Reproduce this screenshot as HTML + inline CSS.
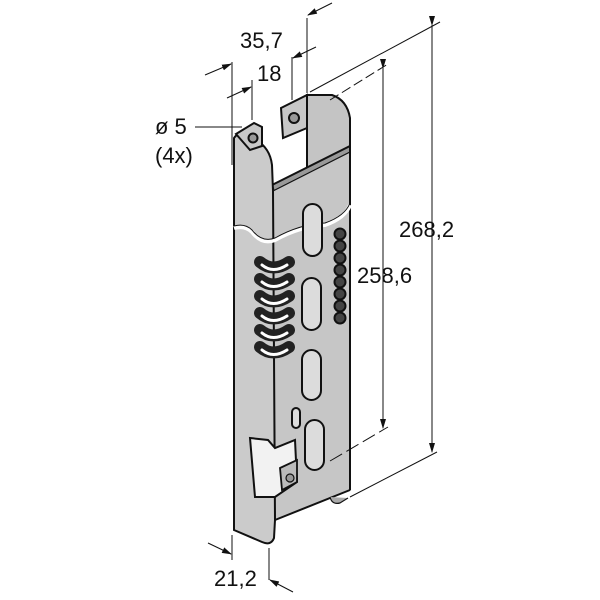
<!DOCTYPE html>
<html><head><style>body{margin:0;background:#fff}svg{display:block}text{font-family:"Liberation Sans",sans-serif;fill:#111}</style></head><body>
<svg width="600" height="600" viewBox="0 0 600 600" xmlns="http://www.w3.org/2000/svg">
<defs><marker id="a" markerWidth="10" markerHeight="8" refX="9" refY="4" orient="auto" markerUnits="userSpaceOnUse"><path d="M0,1 L10,4 L0,7z" fill="#111"/></marker></defs>
<g stroke="#111" stroke-width="1.2" fill="none">
<path d="M307,95 L332,95 Q347,100 350,118 L350,150 L307,170 Z" fill="#c4c4c4" stroke-width="2"/>
<path d="M281,108 L307,95 L307,128 L283,138Z" fill="#c8c8c8" stroke-width="2"/>
<circle cx="294" cy="118" r="5" fill="#999" stroke-width="2"/>
<path d="M272,185 L350,146 L350,153 L274,192Z" fill="#999" stroke-width="2"/>
<path d="M273,191 L350,152 L350,490 L275,520 Z" fill="#c6c6c6"/>
<path d="M234,138 Q238,132 246,132 L256,140 Q270,148 272,165 L273,191 L275,520 L274,538 Q271,546 262,542 L234,530 Z" fill="#cbcbcb" stroke-width="2"/>
<path d="M236,134 L254,123 L262,127 L262,146 L250,150Z" fill="#c8c8c8" stroke-width="2"/>
<circle cx="253" cy="138" r="4.5" fill="#999" stroke-width="2"/>
<line x1="273" y1="191" x2="275" y2="520"/>
<path d="M275,520 L350,490" stroke-width="2"/>
<line x1="350" y1="146" x2="350" y2="490" stroke-width="2"/>
<path d="M330,497 Q332,505 340,503 L348,498" fill="#aaa"/>
<path d="M250,438 L268,440 L275,448 L295,440 L297,482 L275,497 L255,497 Z" fill="#f2f2f2" stroke-width="2"/>
<path d="M280,468 L297,460 L297,482 L282,490Z" fill="#bbb" stroke-width="1.8"/>
<circle cx="290" cy="478" r="4" fill="#999"/>
<path d="M234,228 Q245,225 252,232 Q262,245 275,240 Q300,226 325,225 Q345,218 350,205" stroke="#fff" stroke-width="4"/>
<path d="M234,226 Q245,223 252,230 Q262,243 275,238 Q300,224 325,223 Q345,216 350,203" stroke-width="1"/>
<g fill="#dcdcdc" stroke-width="2">
<rect x="303" y="204" width="19" height="52" rx="9.5"/>
<rect x="302" y="278" width="19" height="52" rx="9.5"/>
<rect x="302" y="350" width="19" height="50" rx="9.5"/>
<rect x="292" y="408" width="8" height="20" rx="4"/>
<rect x="305" y="420" width="19" height="50" rx="9.5"/>
</g>
<g stroke-linecap="round" stroke-linejoin="round">
<g stroke="#222" stroke-width="12">
<path d="M260,262 Q273,273 289,262"/><path d="M260,279 Q273,290 289,279"/><path d="M260,296 Q273,307 289,296"/><path d="M260,313 Q273,324 289,313"/><path d="M260,330 Q273,341 289,330"/><path d="M260,347 Q273,358 289,347"/>
</g>
<g stroke="#fff" stroke-width="3">
<path d="M262,265 Q273,274 287,265"/><path d="M262,282 Q273,291 287,282"/><path d="M262,299 Q273,308 287,299"/><path d="M262,316 Q273,325 287,316"/><path d="M262,333 Q273,342 287,333"/><path d="M262,350 Q273,359 287,350"/>
</g>
</g>
<g fill="#444" stroke-width="2">
<circle cx="340" cy="234" r="5.5"/><circle cx="340" cy="246" r="5.5"/><circle cx="340" cy="258" r="5.5"/><circle cx="340" cy="270" r="5.5"/><circle cx="340" cy="282" r="5.5"/><circle cx="340" cy="294" r="5.5"/><circle cx="340" cy="306" r="5.5"/><circle cx="340" cy="318" r="5.5"/>
</g>
</g>
<g stroke="#111" stroke-width="1" fill="none">
<line x1="432" y1="25" x2="432" y2="452" marker-start="url(#a)" marker-end="url(#a)"/>
<line x1="310" y1="92" x2="440" y2="22"/>
<line x1="350" y1="497" x2="437" y2="452"/>
<line x1="383" y1="68" x2="383" y2="428" marker-start="url(#a)" marker-end="url(#a)"/>
<line x1="330" y1="100" x2="388" y2="64" stroke-dasharray="10,4"/>
<line x1="330" y1="461" x2="388" y2="427" stroke-dasharray="14,5"/>
<line x1="232" y1="62" x2="232" y2="165"/>
<line x1="307" y1="18" x2="307" y2="93"/>
<line x1="205" y1="75" x2="231" y2="64" marker-end="url(#a)"/>
<line x1="332" y1="3" x2="308" y2="15" marker-end="url(#a)"/>
<line x1="252" y1="80" x2="252" y2="120"/>
<line x1="292" y1="57" x2="292" y2="100"/>
<line x1="227" y1="98" x2="251" y2="87" marker-end="url(#a)"/>
<line x1="316" y1="47" x2="293" y2="58" marker-end="url(#a)"/>
<line x1="195" y1="127" x2="242" y2="127"/>
<line x1="232" y1="535" x2="232" y2="560"/>
<line x1="269" y1="548" x2="269" y2="580"/>
<line x1="208" y1="543" x2="231" y2="554" marker-end="url(#a)"/>
<line x1="293" y1="592" x2="270" y2="580" marker-end="url(#a)"/>
</g>
<g font-size="22">
<text x="240" y="48">35,7</text>
<text x="257" y="81">18</text>
<text x="155" y="134">ø 5</text>
<text x="155" y="163">(4x)</text>
<text x="399" y="237">268,2</text>
<text x="357" y="283">258,6</text>
<text x="214" y="586">21,2</text>
</g>
</svg>
</body></html>
